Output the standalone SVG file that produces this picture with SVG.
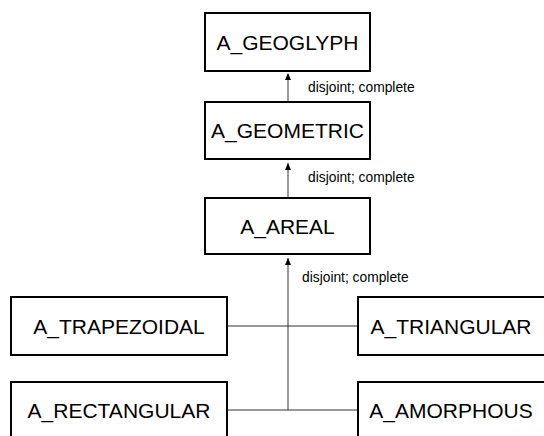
<svg xmlns="http://www.w3.org/2000/svg" width="544" height="436" viewBox="0 0 544 436">
<style>
.box{fill:#fff;stroke:#000;stroke-width:2}
.lbl{font-family:"Liberation Sans",Arial,sans-serif;font-size:21px;fill:#000;text-anchor:middle}
.note{font-family:"Liberation Sans",Arial,sans-serif;font-size:13.8px;fill:#000}
.con{stroke:#333;stroke-width:1;fill:none}
.head{fill:#000}
</style>
<rect width="544" height="436" fill="#fff"/>
<g id="connectors">
<path class="con" d="M288,102 V74"/>
<path class="head" d="M285,80 L288,73 L291,80 Z"/>
<path class="con" d="M288,198 V163"/>
<path class="head" d="M285,170 L288,163 L291,170 Z"/>
<path class="con" d="M288,410 V258"/>
<path class="head" d="M285,265 L288,258 L291,265 Z"/>
<path class="con" d="M227,326 H358"/>
<path class="con" d="M227,410 H358"/>
<text class="note" x="308" y="92">disjoint; complete</text>
<text class="note" x="308" y="182">disjoint; complete</text>
<text class="note" x="302" y="282">disjoint; complete</text>
</g>
<g id="A_GEOGLYPH"><rect class="box" x="205" y="13" width="165" height="58"/><text class="lbl" x="287.5" y="49.5">A_GEOGLYPH</text></g>
<g id="A_GEOMETRIC"><rect class="box" x="205" y="102" width="165" height="57"/><text class="lbl" x="287.5" y="138">A_GEOMETRIC</text></g>
<g id="A_AREAL"><rect class="box" x="205" y="198" width="165" height="56"/><text class="lbl" x="287.5" y="233.5">A_AREAL</text></g>
<g id="A_TRAPEZOIDAL"><rect class="box" x="11" y="297" width="216" height="58"/><text class="lbl" x="119" y="333.5">A_TRAPEZOIDAL</text></g>
<g id="A_TRIANGULAR"><rect class="box" x="358" y="297" width="200" height="58"/><text class="lbl" x="451" y="333.5">A_TRIANGULAR</text></g>
<g id="A_RECTANGULAR"><rect class="box" x="11" y="382" width="216" height="70"/><text class="lbl" x="119" y="418">A_RECTANGULAR</text></g>
<g id="A_AMORPHOUS"><rect class="box" x="358" y="382" width="200" height="70"/><text class="lbl" x="451" y="418">A_AMORPHOUS</text></g>
</svg>
